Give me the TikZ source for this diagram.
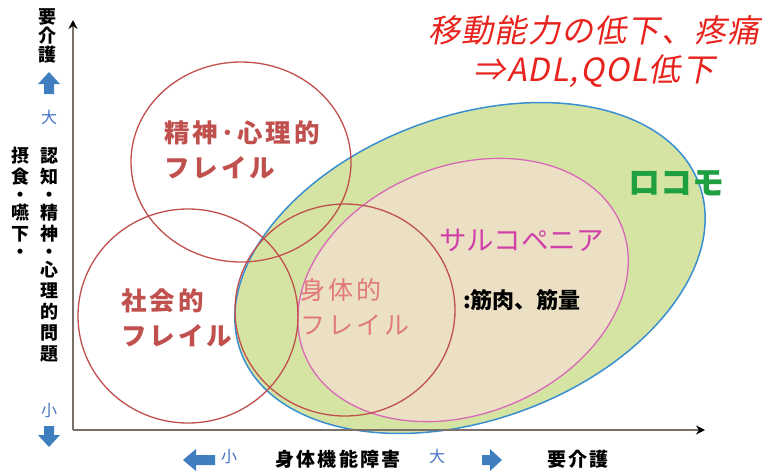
\documentclass[tikz,border=0pt]{standalone}
\usepackage{fontspec}
\usetikzlibrary{arrows.meta}
\newfontfamily\jp{Noto Sans CJK JP}
\newfontfamily\jpls[LetterSpace=12]{Noto Sans CJK JP}
\newfontfamily\jpsl[FakeSlant=0.2,LetterSpace=4]{Noto Sans CJK JP}
\definecolor{frail}{HTML}{C0504D}
\definecolor{frailL}{HTML}{E07A78}
\definecolor{locof}{HTML}{D5E4A2}
\definecolor{locob}{HTML}{3A8FD0}
\definecolor{sarcf}{HTML}{ECE0C4}
\definecolor{sarcb}{HTML}{D868B8}
\definecolor{sarct}{HTML}{D040A8}
\definecolor{locot}{HTML}{1EA040}
\definecolor{titler}{HTML}{E8221C}
\definecolor{bluea}{HTML}{3F7FC0}
\definecolor{bluet}{HTML}{4472C4}
\definecolor{axisc}{HTML}{7A7068}
\begin{document}
\begin{tikzpicture}[x=1pt,y=-1pt,
  circ/.style={draw=frail,line width=1.3pt},
  lbl/.style={inner sep=0pt,align=left,anchor=west},
  fr/.style={lbl,text=frail,font=\jpls\bfseries\fontsize{25.5}{35}\selectfont},
  vtext/.style={inner sep=0pt,align=center,font=\jp\bfseries\fontsize{18}{21}\selectfont},
  bluetxt/.style={inner sep=0pt,text=bluet,font=\jp\fontsize{16}{18}\selectfont},
  axlbl/.style={inner sep=0pt,font=\jpls\bfseries\fontsize{19}{20}\selectfont},
  barrow/.style={fill=bluea}]
\path[use as bounding box] (0,0) rectangle (774,472);
% big ellipses
\draw[fill=locof,draw=locob,line width=1.5pt,rotate around={20:(470,268)}] (470,268) ellipse [x radius=244, y radius=152];
\draw[fill=sarcf,draw=sarcb,line width=1.3pt,rotate around={22:(463,290)}] (463,290) ellipse [x radius=171, y radius=124];
% frailty circles
\draw[circ] (241,162) ellipse [x radius=110, y radius=100];
\draw[circ] (188,316) ellipse [x radius=110, y radius=107];
\draw[circ] (345,310) ellipse [x radius=110, y radius=106];
% axes
\coordinate (O) at (73,430);
\coordinate (Ytop) at (73,20);
\coordinate (Xend) at (705,430);
\draw[axisc,line width=2pt,-{Stealth[length=9pt,width=9pt,black]}] (O) -- (Ytop);
\draw[axisc,line width=2pt,-{Stealth[length=9pt,width=9pt,black]}] (O) -- (Xend);
% texts in circles
\node[fr] (psy) at (164,150) {精神･心理的\\フレイル};
\node[fr] (soc) at (121,318) {社会的\\フレイル};
\node[lbl,text=frailL,font=\jpls\fontsize{25}{35}\selectfont] (phy) at (300,307) {身体的\\フレイル};
\node[lbl,text=sarct,font=\jp\fontsize{27.5}{30}\selectfont] (sarc) at (439,240) {サルコペニア};
\node[lbl,font=\jp\bfseries\fontsize{22}{24}\selectfont] (musc) at (463,300) {:筋肉、筋量};
\node[lbl,text=locot,font=\jp\bfseries\fontsize{32}{34}\selectfont] (loco) at (628,183) {ロコモ};
% title
\node[inner sep=0pt,text=titler,font=\jpsl\fontsize{32}{39}\selectfont,align=center] (title) at (594,52) {移動能力の低下、疼痛\\⇒ADL,QOL低下};
% y axis labels
\node[vtext,anchor=north,font=\jp\bfseries\fontsize{18}{19}\selectfont] (ycare) at (47,8) {要\\介\\護};
\node[vtext,anchor=north] (ycog) at (49,147) {認\\知\\[-3pt]・\\[-3pt]精\\神\\[-3pt]・\\[-3pt]心\\理\\的\\問\\題};
\node[vtext,anchor=north] (yeat) at (20,147) {摂\\食\\[-3pt]・\\[-3pt]嚥\\下\\[-3pt]・};
\node[bluetxt] (ybig) at (49,117) {大};
\node[bluetxt] (ysmall) at (49,411) {小};
\fill[barrow] (49,72) -- (60,84) -- (54,84) -- (54,94) -- (44,94) -- (44,84) -- (38,84) -- cycle;
\fill[barrow] (49,447) -- (60,435) -- (54,435) -- (54,426) -- (44,426) -- (44,435) -- (38,435) -- cycle;
% x axis labels
\fill[barrow] (183,460) -- (196,449) -- (196,455) -- (215,455) -- (215,465) -- (196,465) -- (196,471) -- cycle;
\fill[barrow] (502,460) -- (490,449) -- (490,455) -- (482,455) -- (482,465) -- (490,465) -- (490,471) -- cycle;
\node[bluetxt] (xsmall) at (229,457) {小};
\node[axlbl,anchor=west] (xphys) at (275,459) {身体機能障害};
\node[bluetxt] (xbig) at (437,456) {大};
\node[axlbl,anchor=west] (xcare) at (547,459) {要介護};
\end{tikzpicture}
\end{document}
